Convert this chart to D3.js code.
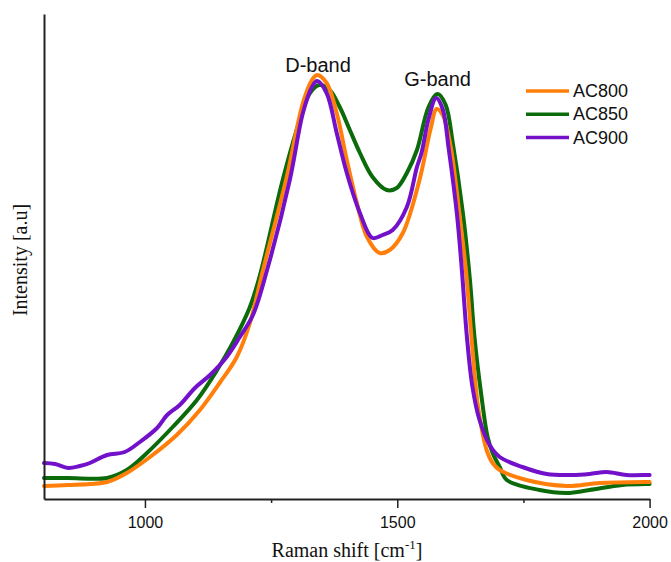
<!DOCTYPE html>
<html>
<head>
<meta charset="utf-8">
<script src="https://cdn.jsdelivr.net/npm/d3@7"></script>
<style>
  html, body { margin: 0; padding: 0; background: #fff; }
  svg { display: block; }
</style>
</head>
<body>
<svg id="chart" width="671" height="562"></svg>
<script>
// ---- data (Raman shift in cm^-1, intensity in arbitrary units) ----
const seriesNames = ["AC800", "AC850", "AC900"];
const xTickValues = [1000, 1500, 2000];
const xMinorTicks = [1250, 1750];
const bandLabels = ["D-band", "G-band"];

const ac800Shift = [800, 848, 891, 925, 964, 1010, 1063, 1109, 1148, 1182, 1208, 1234, 1281, 1313, 1331, 1341, 1360, 1380, 1400, 1420, 1440, 1465, 1485, 1511, 1544, 1566, 1578, 1590, 1606, 1622, 1636, 1647, 1659, 1669, 1677, 1689, 1703, 1756, 1836, 1901, 1996, 2000];
const ac800Int   = [13, 14, 15, 17, 26, 42, 64, 89, 116, 142, 176, 229, 322, 396, 419, 424, 416, 386, 339, 296, 262, 246, 249, 266, 319, 370, 390, 384, 352, 290, 229, 162, 96, 66, 49, 36, 29, 19, 13, 16, 17, 17];

const ac850Shift = [800, 848, 925, 964, 1004, 1055, 1103, 1143, 1174, 1208, 1228, 1273, 1307, 1327, 1346, 1366, 1386, 1406, 1426, 1451, 1479, 1499, 1519, 1539, 1562, 1580, 1596, 1610, 1630, 1644, 1653, 1667, 1679, 1689, 1703, 1717, 1782, 1836, 1881, 1946, 1996, 2000];
const ac850Int   = [21, 21, 21, 29, 46, 72, 99, 129, 156, 192, 224, 319, 379, 406, 414, 409, 392, 369, 346, 322, 309, 311, 326, 349, 392, 405, 394, 356, 286, 219, 162, 102, 62, 46, 32, 19, 9, 6, 9, 14, 15, 15];

const ac900Shift = [800, 822, 848, 871, 891, 925, 960, 990, 1024, 1044, 1069, 1099, 1129, 1162, 1188, 1214, 1242, 1287, 1313, 1331, 1341, 1360, 1380, 1400, 1426, 1451, 1471, 1491, 1519, 1539, 1548, 1562, 1577, 1590, 1602, 1618, 1628, 1638, 1649, 1663, 1683, 1703, 1748, 1796, 1847, 1881, 1915, 1954, 1996, 2000];
const ac900Int   = [36, 35, 31, 33, 36, 44, 47, 57, 71, 84, 94, 111, 124, 142, 162, 184, 229, 319, 386, 412, 418, 406, 366, 326, 286, 261, 264, 269, 292, 332, 346, 380, 401, 390, 350, 286, 229, 162, 112, 79, 54, 42, 32, 25, 24, 25, 27, 24, 24, 24];

const seriesColors = ["#ff7f0a", "#0b6b0b", "#7211c9"];

// ---- layout ----
const svg = d3.select("#chart");
const x = d3.scaleLinear().domain([800, 2000]).range([44, 649.6]);
const y = d3.scaleLinear().domain([0, 485]).range([499, 14]);

const series = [
  { name: seriesNames[0], color: seriesColors[0], pts: ac800Shift.map((s, i) => [s, ac800Int[i]]) },
  { name: seriesNames[1], color: seriesColors[1], pts: ac850Shift.map((s, i) => [s, ac850Int[i]]) },
  { name: seriesNames[2], color: seriesColors[2], pts: ac900Shift.map((s, i) => [s, ac900Int[i]]) }
];

const line = d3.line()
  .x(d => x(d[0]))
  .y(d => y(d[1]))
  .curve(d3.curveCatmullRom.alpha(0.5));

// draw order: green, orange, purple
const drawOrder = [1, 0, 2];
svg.append("g").selectAll("path")
  .data(drawOrder.map(i => series[i]))
  .join("path")
  .attr("d", d => line(d.pts))
  .attr("fill", "none")
  .attr("stroke", d => d.color)
  .attr("stroke-width", 4)
  .attr("stroke-linejoin", "round")
  .attr("stroke-linecap", "round");

// ---- axes ----
const xAxis = d3.axisBottom(x).tickValues(xTickValues).tickSize(9).tickSizeOuter(0).tickPadding(9).tickFormat(d3.format("d"));
const gx = svg.append("g").attr("transform", "translate(0,499)").call(xAxis);
gx.select(".domain").attr("stroke", "#222").attr("stroke-width", 2);
gx.selectAll(".tick line").attr("stroke", "#222").attr("stroke-width", 1.5);
gx.selectAll(".tick text").attr("font-family", "Liberation Sans, Arial, sans-serif").attr("font-size", 16).attr("fill", "#111");

const xMinor = d3.axisBottom(x).tickValues(xMinorTicks).tickSize(4).tickSizeOuter(0).tickFormat("");
const gxm = svg.append("g").attr("transform", "translate(0,499)").call(xMinor);
gxm.select(".domain").remove();
gxm.selectAll(".tick line").attr("stroke", "#222").attr("stroke-width", 1.5);

const yAxis = d3.axisLeft(y).tickValues([]).tickSizeOuter(0);
const gy = svg.append("g").attr("transform", "translate(44,0)").call(yAxis);
gy.select(".domain").attr("stroke", "#222").attr("stroke-width", 2);

// ---- axis titles ----
const xt = svg.append("text")
  .attr("x", 347).attr("y", 557)
  .attr("text-anchor", "middle")
  .attr("font-family", "Liberation Serif, Times New Roman, serif")
  .attr("font-size", 20).attr("fill", "#111");
xt.append("tspan").text("Raman shift [cm");
xt.append("tspan").attr("font-size", 13).attr("dy", -8).text("-1");
xt.append("tspan").attr("dy", 8).text("]");

svg.append("text")
  .attr("transform", "translate(27,260) rotate(-90)")
  .attr("text-anchor", "middle")
  .attr("font-family", "Liberation Serif, Times New Roman, serif")
  .attr("font-size", 20).attr("fill", "#111")
  .text("Intensity [a.u]");

// ---- band labels ----
const bandPos = [[1341, 71.7], [1578, 85.7]];
svg.selectAll("text.band")
  .data(bandLabels)
  .join("text")
  .attr("class", "band")
  .attr("x", (d, i) => x(bandPos[i][0]) + 1)
  .attr("y", (d, i) => bandPos[i][1])
  .attr("text-anchor", "middle")
  .attr("font-family", "Liberation Sans, Arial, sans-serif")
  .attr("font-size", 20).attr("fill", "#111")
  .text(d => d);

// ---- legend ----
const legend = svg.append("g").attr("transform", "translate(526,91)");
const li = legend.selectAll("g").data(series).join("g")
  .attr("transform", (d, i) => `translate(0,${i * 23.3})`);
li.append("line").attr("x1", 0).attr("x2", 43).attr("y1", 0).attr("y2", 0)
  .attr("stroke", d => d.color).attr("stroke-width", 3.5);
li.append("text").attr("x", 47).attr("y", 6)
  .attr("font-family", "Liberation Sans, Arial, sans-serif")
  .attr("font-size", 18).attr("fill", "#111")
  .text(d => d.name);
</script>
</body>
</html>
